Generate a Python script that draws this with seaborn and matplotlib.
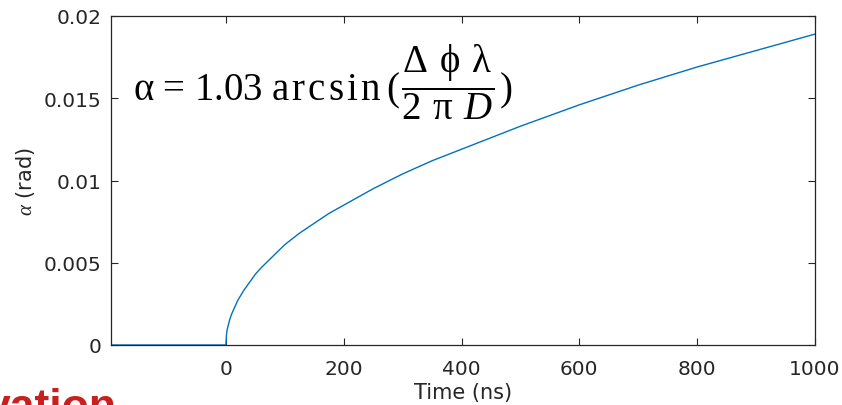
import numpy as np
import pandas as pd
import matplotlib
matplotlib.use("Agg")
import matplotlib.pyplot as plt
import seaborn as sns

# Data
time_ns = [-195, 0, 1, 2, 4, 7, 10, 15, 20, 30, 40, 50, 60, 80, 100, 125, 150, 175, 200, 250,
           300, 350, 400, 450, 500, 600, 700, 800, 900, 1000]
alpha_rad = [0.0, 0.0, 0.0006, 0.0009, 0.0012, 0.0016, 0.0019, 0.0023, 0.0027, 0.0033, 0.0038,
             0.0043, 0.0047, 0.0054, 0.0061, 0.0068, 0.0074, 0.0080, 0.0085, 0.0095,
             0.0104, 0.0112, 0.0119, 0.0126, 0.0133, 0.0146, 0.0158, 0.0169, 0.0179, 0.0189]
x_ticks = [0, 200, 400, 600, 800, 1000]
x_tick_labels = ["0", "200", "400", "600", "800", "1000"]
y_ticks = [0, 0.005, 0.01, 0.015, 0.02]
y_tick_labels = ["0", "0.005", "0.01", "0.015", "0.02"]

sns.set_style("ticks")
plt.rcParams["font.family"] = ["DejaVu Sans"]
plt.rcParams["mathtext.fontset"] = "custom"
plt.rcParams["mathtext.rm"] = "Liberation Serif"
plt.rcParams["mathtext.it"] = "Liberation Serif:italic"
plt.rcParams["mathtext.bf"] = "Liberation Serif:bold"

txt = "#262626"
fig = plt.figure(figsize=(8.42, 4.06), dpi=100)
ax = fig.add_axes([111 / 842, 60 / 406, (815 - 111) / 842, (346 - 17) / 406])

df = pd.DataFrame({"t": time_ns, "a": alpha_rad})
sns.lineplot(data=df, x="t", y="a", ax=ax, color="#0072BD", linewidth=1.0, estimator=None, sort=False)

ax.set_xlim(-195, 1000)
ax.set_ylim(0, 0.02)
ax.set_xticks(x_ticks)
ax.set_xticklabels(x_tick_labels)
ax.set_yticks(y_ticks)
ax.set_yticklabels(y_tick_labels)
ax.tick_params(direction="in", top=True, right=True, length=5, width=0.8,
               colors=txt, labelsize=14.5)
ax.tick_params(axis="x", pad=10)
ax.tick_params(axis="y", pad=7)
for s in ax.spines.values():
    s.set_color(txt)
    s.set_linewidth(0.9)

ax.set_xlabel("Time (ns)", fontsize=15, color=txt, labelpad=3)
ax.set_ylabel(r"$\alpha$ (rad)", fontsize=15, color=txt, labelpad=5)

h = r"\hspace{0.11}"
arcsin = h.join("arcsin")
eq = (r"$\mathrm{\alpha\hspace{0.14}{=}\hspace{0.14}1.03\hspace{0.32}" + arcsin +
      r"\hspace{0.25}(\hspace{0.06}}"
      r"\dfrac{\mathrm{\Delta\hspace{0.42}\phi\hspace{0.42}\lambda}}{\mathrm{2\hspace{0.42}\pi\hspace{0.42}}D}"
      r"\mathrm{\hspace{0.08})}$")
fig.text(133 / 842, (406 - 82) / 406, eq,
         fontsize=28, color="black", ha="left", va="center")

fig.text(117 / 842, -14 / 406, "vation", fontsize=32, fontweight="bold", color="#C8201E",
         family="Liberation Sans", ha="right", va="baseline")

fig.savefig("out.png", dpi=100)
